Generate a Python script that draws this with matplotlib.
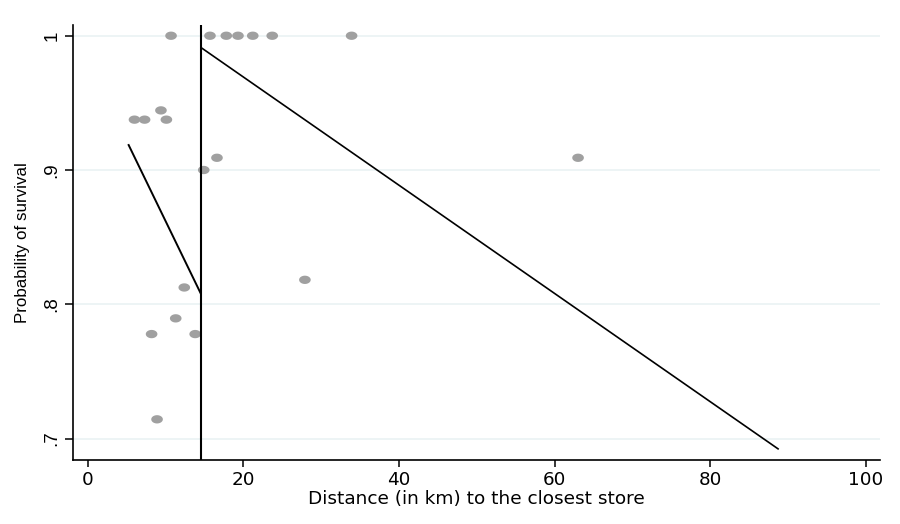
import numpy as np
import matplotlib
matplotlib.use("Agg")
import matplotlib.pyplot as plt
from matplotlib.path import Path

# Data
dist = [10.7, 15.7, 17.8, 19.3, 21.2, 23.7, 33.9,
        6.0, 7.3, 9.4, 10.1, 16.6, 14.9,
        12.4, 11.3, 8.2, 13.8, 8.9, 27.9, 63.0]
surv = [1.0, 1.0, 1.0, 1.0, 1.0, 1.0, 1.0,
        0.9375, 0.9375, 0.9444, 0.9375, 0.9091, 0.9,
        0.8125, 0.7895, 0.7778, 0.7778, 0.7143, 0.8182, 0.9091]
cutoff = 14.55
left_fit_x = [5.25, 14.5]
left_fit_y = [0.9186, 0.8082]
right_fit_x = [14.6, 88.7]
right_fit_y = [0.991, 0.6923]
xticks = [0, 20, 40, 60, 80, 100]
yticks = [0.7, 0.8, 0.9, 1.0]
ytick_labels = [".7", ".8", ".9", "1"]

plt.rcParams['font.family'] = ['DejaVu Sans']

fig = plt.figure(figsize=(9, 5.24), dpi=100)
ax = fig.add_axes([73/900, 1-460/524, (880-73)/900, (460-25)/524])

# ellipse marker (wide dots)
t = np.linspace(0, 2*np.pi, 60)
ell = Path(np.column_stack([1.4*np.cos(t), np.sin(t)]), closed=True)

for yv in yticks:
    ax.axhline(yv, color='#eaf2f3', lw=1.2, zorder=0)

ax.scatter(dist, surv, marker=ell, s=70, color='#a0a0a0', edgecolors='none', zorder=2)
ax.axvline(cutoff, color='black', lw=1.5, zorder=3)
ax.plot(left_fit_x, left_fit_y, color='black', lw=1.4, zorder=3)
ax.plot(right_fit_x, right_fit_y, color='black', lw=1.2, zorder=3)

ax.set_xlim(-1.9, 101.8)
ax.set_ylim(0.684, 1.008)
ax.set_xticks(xticks)
ax.set_xticklabels([str(v) for v in xticks], fontsize=13.2)
ax.set_yticks(yticks)
ax.set_yticklabels(ytick_labels, fontsize=13.5, rotation=90, va='center',
                   family=['Liberation Sans'])
ax.tick_params(axis='x', length=5, width=1.1, pad=3.2)
ax.tick_params(axis='y', length=6, width=1.1, pad=3)
for s in ['top', 'right']:
    ax.spines[s].set_visible(False)
for s in ['left', 'bottom']:
    ax.spines[s].set_linewidth(1.2)

ax.set_xlabel("Distance (in km) to the closest store", fontsize=13.3, labelpad=0.8)
ax.set_ylabel("Probability of survival", fontsize=12.2, labelpad=10,
              family=['Liberation Sans'])

fig.savefig("out.png", dpi=100)
